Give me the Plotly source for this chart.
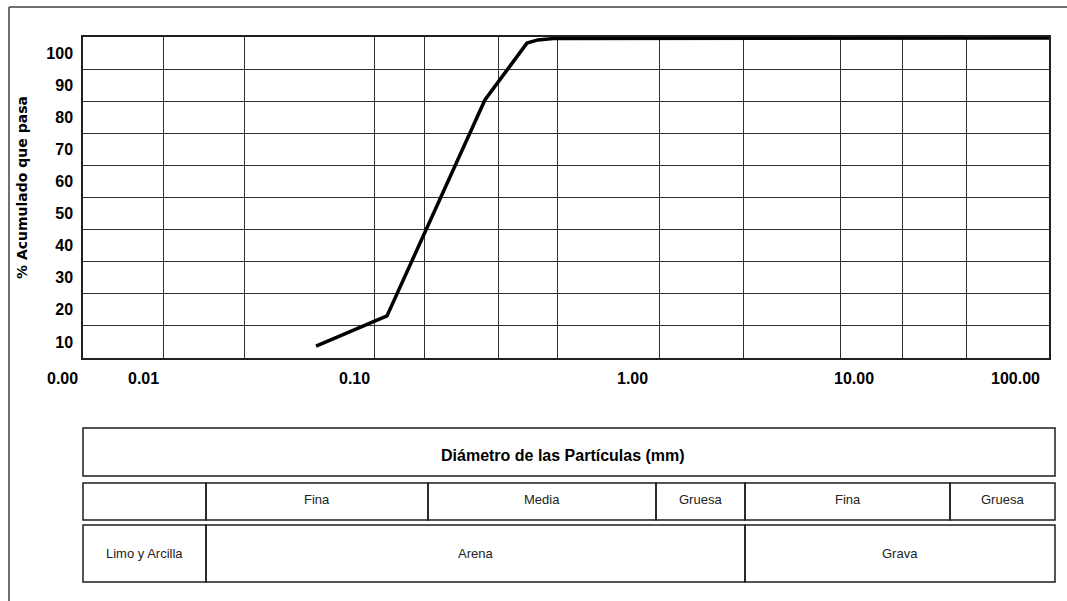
import math
import plotly.graph_objects as go

W, H = 1067, 601

# Grain-size distribution curve (diameter in mm, % passing)
diametro_mm = [0.0706, 0.128, 0.291, 0.414, 0.454, 0.515, 33.0]
pasa_pct = [3.7, 13.1, 80.4, 98.1, 99.1, 99.5, 99.7]

# Vertical reference lines of the grid (mm)
grid_mm = [0.0197, 0.0389, 0.115, 0.175, 0.325, 0.537, 1.26, 2.55, 5.76, 9.68, 16.5]
y_ticks = [10, 20, 30, 40, 50, 60, 70, 80, 90, 100]
x_labels = ["0.00", "0.01", "0.10", "1.00", "10.00", "100.00"]

y_title = "% Acumulado que pasa"
table_title = "Diámetro de las Partículas (mm)"
row2_labels = ["", "Fina", "Media", "Gruesa", "Fina", "Gruesa"]
row3_labels = ["Limo y Arcilla", "Arena", "Grava"]

# layout geometry in pixels
PLOT_L, PLOT_R, PLOT_T, PLOT_B = 83, 1049, 37, 358
x_label_px = [62, 143, 354, 632, 854, 1015]
x_label_y = 378
tbl_l, tbl_r = 83, 1055
row1 = (428, 476)
row2 = (483, 520)
row3 = (525, 582)
row2_cols = [83, 206, 428, 656, 745, 950, 1055]
row3_cols = [83, 206, 745, 1055]

SANS = "Liberation Sans, Arial, sans-serif"


def px(x):
    return x / W


def py(y):
    return 1 - y / H


fig = go.Figure()
fig.add_trace(go.Scatter(
    x=diametro_mm, y=pasa_pct, mode="lines",
    line=dict(color="black", width=3.5),
    hoverinfo="skip", showlegend=False,
))

fig.update_layout(
    width=W, height=H,
    margin=dict(l=0, r=0, t=0, b=0),
    paper_bgcolor="white", plot_bgcolor="white",
    showlegend=False,
    xaxis=dict(
        type="log", range=[-2, math.log10(33.0)],
        domain=[px(PLOT_L), px(PLOT_R)],
        tickvals=grid_mm, showticklabels=False, ticks="",
        showgrid=True, gridcolor="#303030", gridwidth=1.2,
        showline=True, linecolor="#202020", linewidth=1.5, mirror=True,
        zeroline=False, automargin=False,
    ),
    yaxis=dict(
        range=[0, 100],
        domain=[py(PLOT_B), py(PLOT_T)],
        tickvals=y_ticks, ticktext=[str(v) for v in y_ticks],
        ticks="", ticklabelshift=16, ticklabelstandoff=5,
        tickfont=dict(family=SANS, size=16, color="black", weight="bold"),
        showgrid=True, gridcolor="#303030", gridwidth=1.2,
        showline=True, linecolor="#202020", linewidth=1.5, mirror=True,
        zeroline=False, automargin=False,
    ),
)

shapes = []
annotations = []

# outer frame of the sheet
shapes.append(dict(type="line", xref="paper", yref="paper",
                   x0=px(9), x1=px(W + 5), y0=py(7), y1=py(7),
                   line=dict(color="#404040", width=1.5)))
shapes.append(dict(type="line", xref="paper", yref="paper",
                   x0=px(9), x1=px(9), y0=py(7), y1=py(H + 5),
                   line=dict(color="#404040", width=1.5)))

# y-axis title
annotations.append(dict(text=f"<b>{y_title}</b>", xref="paper", yref="paper",
                        x=px(22), y=py(188), showarrow=False, textangle=-90,
                        xanchor="center", yanchor="middle",
                        font=dict(family="DejaVu Sans, Arial, sans-serif", size=14, color="black")))

# x-axis labels
for lab, xp in zip(x_labels, x_label_px):
    annotations.append(dict(text=f"<b>{lab}</b>", xref="paper", yref="paper",
                            x=px(xp), y=py(x_label_y), showarrow=False,
                            xanchor="center", yanchor="middle",
                            font=dict(family=SANS, size=16, color="black")))

line_style = dict(color="#1e1e1e", width=1.5)


def rect(x0, y0, x1, y1):
    shapes.append(dict(type="rect", xref="paper", yref="paper",
                       x0=px(x0), x1=px(x1), y0=py(y0), y1=py(y1),
                       line=line_style, fillcolor="rgba(0,0,0,0)"))


# classification table
rect(tbl_l, row1[0], tbl_r, row1[1])
annotations.append(dict(text=f"<b>{table_title}</b>", xref="paper", yref="paper",
                        x=px(563), y=py(455), showarrow=False,
                        xanchor="center", yanchor="middle",
                        font=dict(family=SANS, size=16, color="black")))

for i, lab in enumerate(row2_labels):
    x0, x1 = row2_cols[i], row2_cols[i + 1]
    rect(x0, row2[0], x1, row2[1])
    if lab:
        annotations.append(dict(text=lab, xref="paper", yref="paper",
                                x=px((x0 + x1) / 2), y=py(499), showarrow=False,
                                xanchor="center", yanchor="middle",
                                font=dict(family=SANS, size=13, color="#222")))

for i, lab in enumerate(row3_labels):
    x0, x1 = row3_cols[i], row3_cols[i + 1]
    rect(x0, row3[0], x1, row3[1])
    annotations.append(dict(text=lab, xref="paper", yref="paper",
                            x=px((x0 + x1) / 2), y=py(553), showarrow=False,
                            xanchor="center", yanchor="middle",
                            font=dict(family=SANS, size=13, color="#222")))

fig.update_layout(shapes=shapes, annotations=annotations)
fig.write_html("out.html")
